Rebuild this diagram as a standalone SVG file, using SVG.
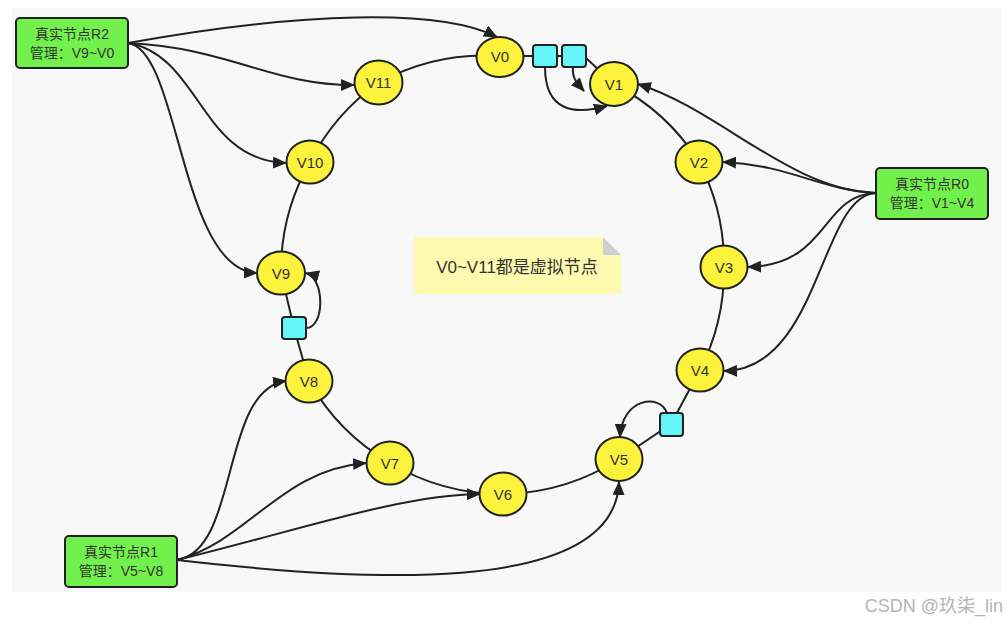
<svg xmlns="http://www.w3.org/2000/svg" width="1008" height="623" viewBox="0 0 1008 623">
<defs>
<marker id="arr" markerUnits="userSpaceOnUse" markerWidth="14" markerHeight="12" viewBox="0 0 14 12" refX="13" refY="6" orient="auto">
<path d="M0,0 L14,6 L0,12 z" fill="#222"/>
</marker>
</defs>
<style>
.edge{fill:none;stroke:#222;stroke-width:2}
.vn ellipse{fill:#fdf33c;stroke:#222;stroke-width:2}
.vn text{font-family:"Liberation Sans",Arial,sans-serif;font-size:15px;fill:#333;text-anchor:middle}
.rn rect{fill:#72f14c;stroke:#222;stroke-width:2}
.rn text{font-family:"Liberation Sans","Noto Sans CJK SC",sans-serif;font-size:14px;fill:#333;text-anchor:middle}
.sq{fill:#63f5f7;stroke:#222;stroke-width:2}
</style>
<rect x="0" y="0" width="1008" height="623" fill="#ffffff"/>
<rect x="12" y="8" width="990" height="584" fill="#f8f8f8"/>

<g id="connectors">
<!-- ring -->
<path class="edge" d="M500,56 L533,56 M557,56 L562,56 M586,58 L614,84 A220 220 0 0 1 699,162 A220 220 0 0 1 724,267 A220 220 0 0 1 700,370 L671,424 L619,459 A220 220 0 0 1 503,494 A220 220 0 0 1 390,463 A220 220 0 0 1 309,381 L294,328 L281,273 A220 220 0 0 1 310,162 A220 220 0 0 1 378,83 A220 220 0 0 1 500,56"/>
<!-- R2 -->
<path class="edge" marker-end="url(#arr)" d="M128,43 C 300,12 440,8 497,37"/>
<path class="edge" marker-end="url(#arr)" d="M128,43 C 230,48 270,85 354,85"/>
<path class="edge" marker-end="url(#arr)" d="M128,43 C 200,55 200,160 286,163"/>
<path class="edge" marker-end="url(#arr)" d="M128,43 C 180,50 180,270 257,273"/>
<!-- R0 -->
<path class="edge" marker-end="url(#arr)" d="M876,193 C 790,190 720,110 638,84"/>
<path class="edge" marker-end="url(#arr)" d="M876,193 C 820,190 790,165 723,162"/>
<path class="edge" marker-end="url(#arr)" d="M876,193 C 820,195 830,265 748,267"/>
<path class="edge" marker-end="url(#arr)" d="M876,193 C 820,195 820,370 724,371"/>
<!-- R1 -->
<path class="edge" marker-end="url(#arr)" d="M177,560 C 240,550 220,390 286,381"/>
<path class="edge" marker-end="url(#arr)" d="M177,560 C 250,540 280,470 366,463"/>
<path class="edge" marker-end="url(#arr)" d="M177,560 C 300,530 400,495 480,494"/>
<path class="edge" marker-end="url(#arr)" d="M177,560 C 350,580 615,600 619,482"/>
<!-- loops -->
<path class="edge" marker-end="url(#arr)" d="M545,67 C 545,112 575,115 607,106"/>
<path class="edge" marker-end="url(#arr)" d="M573,67 C 572,78 576,82 584,91"/>
<path class="edge" marker-end="url(#arr)" d="M306,328 C 325,328 325,278 306,273"/>
<path class="edge" marker-end="url(#arr)" d="M667,413 C 660,393 622,398 620,437"/>
</g>

<g id="squares">
<rect id="sq1" class="sq" x="533" y="45" width="24" height="22" rx="3"/>
<rect id="sq2" class="sq" x="562" y="45" width="24" height="22" rx="3"/>
<rect id="sq9" class="sq" x="282" y="317" width="24" height="22" rx="3"/>
<rect id="sq5" class="sq" x="660" y="413" width="23" height="23" rx="3"/>
</g>

<g id="V0" class="vn"><ellipse cx="500" cy="57" rx="23.5" ry="20"/><text x="500" y="62">V0</text></g>
<g id="V1" class="vn"><ellipse cx="614" cy="84" rx="24" ry="22"/><text x="614" y="90">V1</text></g>
<g id="V2" class="vn"><ellipse cx="699" cy="162" rx="23.5" ry="21.5"/><text x="699" y="168">V2</text></g>
<g id="V3" class="vn"><ellipse cx="724" cy="267" rx="23.5" ry="21.5"/><text x="724" y="273">V3</text></g>
<g id="V4" class="vn"><ellipse cx="700" cy="370" rx="23.5" ry="21.5"/><text x="700" y="376">V4</text></g>
<g id="V5" class="vn"><ellipse cx="619" cy="459" rx="23.5" ry="22"/><text x="619" y="465">V5</text></g>
<g id="V6" class="vn"><ellipse cx="503" cy="494" rx="23.5" ry="21.5"/><text x="503" y="500">V6</text></g>
<g id="V7" class="vn"><ellipse cx="390" cy="463" rx="23.5" ry="21.5"/><text x="390" y="469">V7</text></g>
<g id="V8" class="vn"><ellipse cx="309" cy="381" rx="23.5" ry="21.5"/><text x="309" y="387">V8</text></g>
<g id="V9" class="vn"><ellipse cx="281" cy="273" rx="24" ry="21.5"/><text x="281" y="279">V9</text></g>
<g id="V10" class="vn"><ellipse cx="310" cy="162" rx="23.5" ry="21.5"/><text x="310" y="168">V10</text></g>
<g id="V11" class="vn"><ellipse cx="378.5" cy="82.5" rx="24" ry="22"/><text x="378.5" y="88">V11</text></g>

<g id="R2" class="rn"><rect x="16" y="18" width="112" height="50" rx="4"/><text x="72" y="39">真实节点R2</text><text x="72" y="58">管理：V9~V0</text></g>
<g id="R0" class="rn"><rect x="876" y="168" width="112" height="51" rx="4"/><text x="932" y="189">真实节点R0</text><text x="932" y="208">管理：V1~V4</text></g>
<g id="R1" class="rn"><rect x="65" y="536" width="112" height="51" rx="4"/><text x="121" y="557">真实节点R1</text><text x="121" y="576">管理：V5~V8</text></g>

<g id="note">
<path d="M414,237 L603,237 L621,255 L621,294 L414,294 z" fill="#fffab0"/>
<path d="M603,237 L621,255 L603,255 z" fill="#cfcfcf"/>
<text x="517" y="273" font-family="'Liberation Sans','Noto Sans CJK SC',sans-serif" font-size="17" fill="#333" text-anchor="middle">V0~V11都是虚拟节点</text>
</g>

<text x="1003" y="612" font-family="'Liberation Sans','Noto Sans CJK SC',sans-serif" font-size="18" fill="#b4b4b4" text-anchor="end">CSDN @玖柒_lin</text>
</svg>
